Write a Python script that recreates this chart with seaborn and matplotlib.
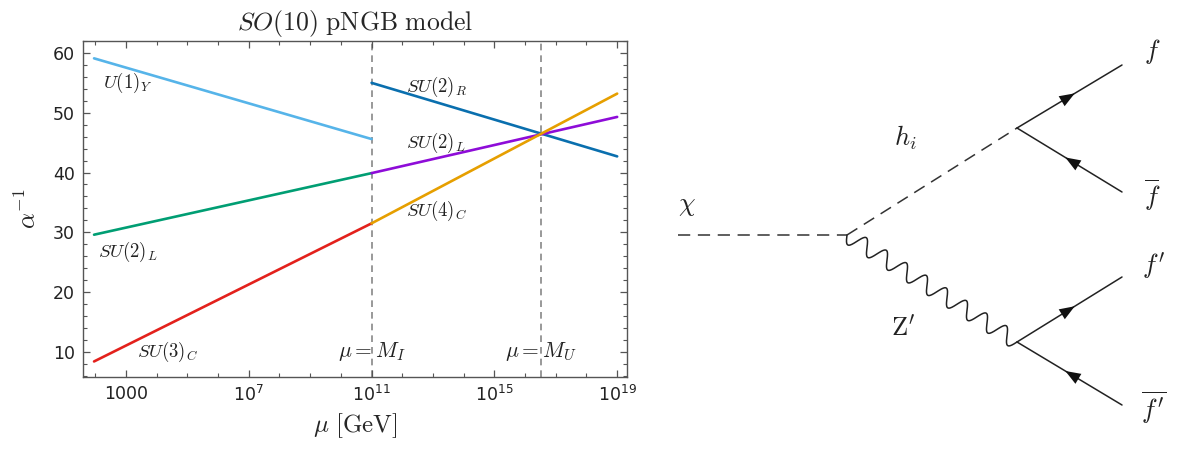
import numpy as np
import pandas as pd
import matplotlib
matplotlib.use("Agg")
import matplotlib.pyplot as plt
import seaborn as sns
from matplotlib.ticker import FixedLocator, FixedFormatter, MultipleLocator

# ---- data ----
mu_low = [91.19, 1e11]        # M_Z .. M_I
mu_high = [1e11, 1e19]        # M_I .. Planck
u1_y = [59.1, 45.6]
su2_l_low = [29.6, 39.9]
su3_c = [8.4, 31.5]
su2_r = [55.0, 42.7]
su2_l_high = [39.9, 49.3]
su4_c = [31.5, 53.2]

M_I = 1e11
M_U = 3.3e16

x_major = [1e3, 1e7, 1e11, 1e15, 1e19]
x_major_labels = ["1000", "$10^{7}$", "$10^{11}$", "$10^{15}$", "$10^{19}$"]
x_minor = [10.0**k for k in range(2, 20)]

segments = {
    "U1Y": (mu_low, u1_y),
    "SU2L_low": (mu_low, su2_l_low),
    "SU3C": (mu_low, su3_c),
    "SU2R": (mu_high, su2_r),
    "SU2L_high": (mu_high, su2_l_high),
    "SU4C": (mu_high, su4_c),
}
palette = {
    "U1Y": "#56B4E9",
    "SU2L_low": "#009E73",
    "SU3C": "#E3211C",
    "SU2R": "#0A6FAE",
    "SU2L_high": "#8E0CD8",
    "SU4C": "#E69F00",
}

rows = []
for name, (xs, ys) in segments.items():
    for x, y in zip(xs, ys):
        rows.append({"mu": x, "alpha_inv": y, "segment": name})
df = pd.DataFrame(rows)

# curve labels: (text, mu, alpha^-1)
curve_labels = [
    (r"$U(1)_Y$", 1.8e2, 55.0),
    (r"$SU(2)_L$", 1.2e2, 26.8),
    (r"$SU(3)_C$", 2.3e3, 10.0),
    (r"$SU(2)_R$", 1.3e12, 54.3),
    (r"$SU(2)_L$", 1.3e12, 45.0),
    (r"$SU(4)_C$", 1.3e12, 33.6),
]

# feynman diagram geometry (pixel coords of the right half)
v_in = (678, 235)
v1 = (847, 235)
v_h = (1017, 128)
v_z = (1017, 342)
end_f = (1122, 65)
end_fbar = (1122, 192)
end_fp = (1122, 277)
end_fpbar = (1122, 405)

sns.set_style("ticks")
plt.rcParams["font.family"] = ["DejaVu Sans"]
plt.rcParams["mathtext.fontset"] = "dejavusans"

fig = plt.figure(figsize=(11.77, 4.55), dpi=100)
ax = fig.add_axes([83 / 1177, 1 - 377 / 455, (627 - 83) / 1177, (377 - 41) / 455])
ax.set_xscale("log")

sns.lineplot(data=df, x="mu", y="alpha_inv", hue="segment", palette=palette,
             legend=False, linewidth=1.9, ax=ax, estimator=None, sort=False)

for xv in (M_I, M_U):
    ax.axvline(xv, color="#888888", ls=(0, (4, 3)), lw=1.2, zorder=0)

ax.set_xlim(10**1.6, 10**19.32)
ax.set_ylim(5.8, 62)

ax.xaxis.set_major_locator(FixedLocator(x_major))
ax.xaxis.set_major_formatter(FixedFormatter(x_major_labels))
ax.xaxis.set_minor_locator(FixedLocator(x_minor))
ax.xaxis.set_minor_formatter(FixedFormatter([""] * len(x_minor)))
ax.yaxis.set_major_locator(MultipleLocator(10))
ax.yaxis.set_minor_locator(MultipleLocator(2))
ax.tick_params(which="both", direction="in", top=True, right=True,
               color="#555555", labelsize=12.5, labelcolor="#222222")
ax.tick_params(which="major", length=5, width=0.9, pad=6)
ax.tick_params(which="minor", length=3, width=0.8)
for s in ax.spines.values():
    s.set_color("#555555")
    s.set_linewidth(1.0)

ax.set_xlabel(r"$\mu\ [\mathrm{GeV}]$", fontsize=18, math_fontfamily="cm", labelpad=4)
ax.set_ylabel(r"$\alpha^{-1}$", fontsize=18, math_fontfamily="cm", labelpad=8)
ax.set_title(r"$SO(10)\ \mathrm{pNGB\ model}$", fontsize=18.5, math_fontfamily="cm", pad=8)

for txt, x, y in curve_labels:
    ax.text(x, y, txt, fontsize=13.5, math_fontfamily="cm", va="center", ha="left", color="#222222")

ax.text(M_I, 10, r"$\mu = M_I$", fontsize=15.5, math_fontfamily="cm", ha="center", va="center", color="#222222")
ax.text(M_U, 10, r"$\mu = M_U$", fontsize=15.5, math_fontfamily="cm", ha="center", va="center", color="#222222")

# ---- feynman diagram ----
fx = fig.add_axes([660 / 1177, 0, 517 / 1177, 1])
fx.set_xlim(660, 1177)
fx.set_ylim(455, 0)
fx.axis("off")

lw = 1.1
fx.plot([v_in[0], v1[0]], [v_in[1], v1[1]], color="#333333", lw=lw, ls=(0, (8, 5)))
fx.plot([v1[0], v_h[0]], [v1[1], v_h[1]], color="#333333", lw=lw, ls=(0, (8, 5)))

# wavy Z'
p0 = np.array(v1, float)
p1 = np.array(v_z, float)
d = p1 - p0
L = np.hypot(*d)
u = d / L
nrm = np.array([-u[1], u[0]])
t = np.linspace(0, 1, 800)
wave = 8.0 * np.sin(2 * np.pi * 8.5 * t)
pts = p0[None, :] + t[:, None] * d[None, :] + wave[:, None] * nrm[None, :]
fx.plot(pts[:, 0], pts[:, 1], color="#222222", lw=lw)


def fermion(start, end, outward, frac):
    s = np.array(start, float)
    e = np.array(end, float)
    fx.plot([s[0], e[0]], [s[1], e[1]], color="#222222", lw=lw)
    dd = (e - s) / np.hypot(*(e - s))
    tip = s + frac * (e - s)
    if not outward:
        dd = -dd
    fx.annotate("", xy=tip, xytext=tip - dd * 12,
                arrowprops=dict(arrowstyle="-|>,head_length=1.0,head_width=0.38",
                                mutation_scale=11, color="#111111", lw=0,
                                shrinkA=0, shrinkB=0))


fermion(v_h, end_f, True, 0.55)
fermion(v_h, end_fbar, False, 0.46)
fermion(v_z, end_fp, True, 0.55)
fermion(v_z, end_fpbar, False, 0.46)

lab = dict(fontsize=19, math_fontfamily="cm", ha="center", va="center", color="#222222")
fx.text(687, 205, r"$\chi$", **lab)
fx.text(905, 138, r"$h_i$", **lab)
fx.text(903, 328, r"$\mathrm{Z}^{\prime}$", **lab)
fx.text(1152, 52, r"$f$", **lab)
fx.text(1152, 195, r"$\overline{f}$", **lab)
fx.text(1154, 266, r"$f^{\prime}$", **lab)
fx.text(1154, 408, r"$\overline{f^{\prime}}$", **lab)

fig.savefig("out.png", dpi=100)
